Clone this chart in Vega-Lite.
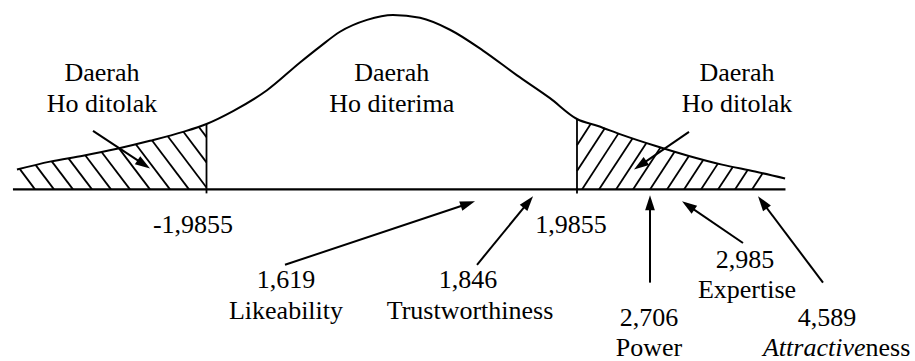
{
  "$schema": "https://vega.github.io/schema/vega-lite/v6.json",
  "width": 915,
  "height": 361,
  "autosize": {"type": "fit", "contains": "padding"},
  "padding": 0,
  "background": "white",
  "config": {
    "view": {"stroke": null}
  },
  "datasets": {
    "curve": [
      {"z": -4.017, "v": 20}, {"z": -3.663, "v": 28}, {"z": -3.309, "v": 34}, {"z": -2.945, "v": 41},
      {"z": -2.591, "v": 49}, {"z": -2.237, "v": 58}, {"z": -1.9855, "v": 66}, {"z": -1.701, "v": 79},
      {"z": -1.337, "v": 100}, {"z": -0.983, "v": 128}, {"z": -0.769, "v": 144}, {"z": -0.555, "v": 159},
      {"z": -0.265, "v": 171}, {"z": 0.013, "v": 176}, {"z": 0.303, "v": 173}, {"z": 0.624, "v": 161},
      {"z": 0.978, "v": 140}, {"z": 1.343, "v": 115}, {"z": 1.696, "v": 92}, {"z": 1.9855, "v": 71},
      {"z": 2.211, "v": 64}, {"z": 2.468, "v": 55}, {"z": 2.822, "v": 44}, {"z": 3.175, "v": 34},
      {"z": 3.54, "v": 25}, {"z": 3.894, "v": 18}, {"z": 4.216, "v": 11}
    ],
    "baseline": [{"z": -4.06, "z2": 4.22, "v": 0}],
    "bounds": [{"z": -1.9855, "v": 66, "v2": -4}, {"z": 1.9855, "v": 71, "v2": -4}],
    "hatch": [
      {"z": -3.9877, "v": 20.7, "z2": -3.8237, "v2": 0},
      {"z": -3.8162, "v": 24.5, "z2": -3.6201, "v2": 0},
      {"z": -3.6436, "v": 28.3, "z2": -3.4164, "v2": 0},
      {"z": -3.4646, "v": 31.3, "z2": -3.2127, "v2": 0},
      {"z": -3.2856, "v": 34.4, "z2": -3.0091, "v2": 0},
      {"z": -3.1099, "v": 37.8, "z2": -2.8055, "v2": 0},
      {"z": -2.9234, "v": 41.4, "z2": -2.5911, "v2": 0},
      {"z": -2.7433, "v": 45.6, "z2": -2.3767, "v2": 0},
      {"z": -2.5708, "v": 49.5, "z2": -2.1731, "v2": 0},
      {"z": -2.4025, "v": 53.9, "z2": -1.9855, "v2": 2},
      {"z": -2.2331, "v": 58.2, "z2": -1.9855, "v2": 27.3},
      {"z": -2.0713, "v": 63.4, "z2": -1.9855, "v2": 52.7},
      {"z": 2.0391, "v": 0, "z2": 2.4303, "v2": 56.5},
      {"z": 2.2213, "v": 0, "z2": 2.5804, "v2": 51.4},
      {"z": 2.4035, "v": 0, "z2": 2.7294, "v2": 46.8},
      {"z": 2.5857, "v": 0, "z2": 2.8805, "v2": 42.3},
      {"z": 2.7679, "v": 0, "z2": 3.0316, "v2": 38},
      {"z": 2.9502, "v": 0, "z2": 3.1849, "v2": 33.7},
      {"z": 3.1324, "v": 0, "z2": 3.3403, "v2": 29.9},
      {"z": 3.3146, "v": 0, "z2": 3.4957, "v2": 26},
      {"z": 3.4968, "v": 0, "z2": 3.6554, "v2": 22.7},
      {"z": 3.679, "v": 0, "z2": 3.8151, "v2": 19.5},
      {"z": 3.8612, "v": 0, "z2": 3.9738, "v2": 16.1},
      {"z": 1.9855, "v": 18.5, "z2": 2.2856, "v2": 62},
      {"z": 1.9855, "v": 44.6, "z2": 2.1356, "v2": 66.4}
    ],
    "arrows": [
      {"name": "Likeability", "z": -1.1442, "v": -76, "z2": 0.8162, "v2": -14.4, "angle": 71.4},
      {"name": "Trustworthiness", "z": 0.9137, "v": -76, "z2": 1.4636, "v2": -12.8, "angle": 39.1},
      {"name": "Power", "z": 2.768, "v": -94, "z2": 2.768, "v2": -13.5, "angle": 0},
      {"name": "Expertise", "z": 3.7647, "v": -54, "z2": 3.1774, "v2": -16.3, "angle": -55.45},
      {"name": "Attractiveness", "z": 4.6222, "v": -94, "z2": 3.9738, "v2": -13.0, "angle": -36.76},
      {"name": "Ditolak kiri", "z": -3.202, "v": 59, "z2": -2.6576, "v2": 25.2, "angle": 123.7},
      {"name": "Ditolak kanan", "z": 3.186, "v": 58, "z2": 2.6629, "v2": 24.3, "angle": 235.4}
    ],
    "labels": [
      {"label": "Daerah", "z": -3.1056, "v": 109},
      {"label": "Ho ditolak", "z": -3.1056, "v": 78},
      {"label": "Daerah", "z": 0, "v": 109},
      {"label": "Ho diterima", "z": 0, "v": 78},
      {"label": "Daerah", "z": 3.7004, "v": 109},
      {"label": "Ho ditolak", "z": 3.7004, "v": 78},
      {"label": "-1,9855", "z": -2.1302, "v": -44},
      {"label": "1,9855", "z": 1.9212, "v": -44},
      {"label": "1,619", "z": -1.1334, "v": -99},
      {"label": "Likeability", "z": -1.1334, "v": -131},
      {"label": "1,846", "z": 0.8173, "v": -99},
      {"label": "Trustworthiness", "z": 0.8387, "v": -131},
      {"label": "2,985", "z": 3.7862, "v": -79},
      {"label": "Expertise", "z": 3.8076, "v": -109},
      {"label": "2,706", "z": 2.7572, "v": -138},
      {"label": "Power", "z": 2.7572, "v": -168},
      {"label": "4,589", "z": 4.6651, "v": -138}
    ],
    "italicPart": [{"label": "Attractive", "z": 5.0777, "v": -168}],
    "plainPart": [{"label": "ness", "z": 5.0777, "v": -168}]
  },
  "layer": [
    {
      "data": {"name": "curve"},
      "mark": {"type": "line", "color": "black", "strokeWidth": 2, "interpolate": "monotone"},
      "encoding": {
        "x": {"field": "z", "type": "quantitative", "scale": {"domain": [-4.1988, 5.6083], "nice": false, "zero": false}, "axis": null},
        "y": {"field": "v", "type": "quantitative", "scale": {"domain": [-170, 191], "nice": false, "zero": false}, "axis": null}
      }
    },
    {
      "data": {"name": "baseline"},
      "mark": {"type": "rule", "color": "black", "strokeWidth": 2.2},
      "encoding": {
        "x": {"field": "z", "type": "quantitative"},
        "x2": {"field": "z2"},
        "y": {"field": "v", "type": "quantitative"}
      }
    },
    {
      "data": {"name": "bounds"},
      "mark": {"type": "rule", "color": "black", "strokeWidth": 1.8},
      "encoding": {
        "x": {"field": "z", "type": "quantitative"},
        "y": {"field": "v", "type": "quantitative"},
        "y2": {"field": "v2"}
      }
    },
    {
      "data": {"name": "hatch"},
      "mark": {"type": "rule", "color": "black", "strokeWidth": 1.8},
      "encoding": {
        "x": {"field": "z", "type": "quantitative"},
        "y": {"field": "v", "type": "quantitative"},
        "x2": {"field": "z2"},
        "y2": {"field": "v2"}
      }
    },
    {
      "data": {"name": "arrows"},
      "mark": {"type": "rule", "color": "black", "strokeWidth": 2},
      "encoding": {
        "x": {"field": "z", "type": "quantitative"},
        "y": {"field": "v", "type": "quantitative"},
        "x2": {"field": "z2"},
        "y2": {"field": "v2"}
      }
    },
    {
      "data": {"name": "arrows"},
      "mark": {"type": "point", "shape": "M0,-1L0.65,1L-0.65,1Z", "filled": true, "color": "black", "opacity": 1, "size": 225},
      "encoding": {
        "x": {"field": "z2", "type": "quantitative"},
        "y": {"field": "v2", "type": "quantitative"},
        "angle": {"field": "angle", "type": "quantitative", "scale": null}
      }
    },
    {
      "data": {"name": "labels"},
      "mark": {"type": "text", "align": "center", "baseline": "alphabetic", "font": "Liberation Serif", "fontSize": 26, "color": "black"},
      "encoding": {
        "x": {"field": "z", "type": "quantitative"},
        "y": {"field": "v", "type": "quantitative"},
        "text": {"field": "label"}
      }
    },
    {
      "data": {"name": "italicPart"},
      "mark": {"type": "text", "align": "right", "baseline": "alphabetic", "font": "Liberation Serif", "fontSize": 26, "fontStyle": "italic", "color": "black"},
      "encoding": {
        "x": {"field": "z", "type": "quantitative"},
        "y": {"field": "v", "type": "quantitative"},
        "text": {"field": "label"}
      }
    },
    {
      "data": {"name": "plainPart"},
      "mark": {"type": "text", "align": "left", "baseline": "alphabetic", "font": "Liberation Serif", "fontSize": 26, "color": "black"},
      "encoding": {
        "x": {"field": "z", "type": "quantitative"},
        "y": {"field": "v", "type": "quantitative"},
        "text": {"field": "label"}
      }
    }
  ]
}
